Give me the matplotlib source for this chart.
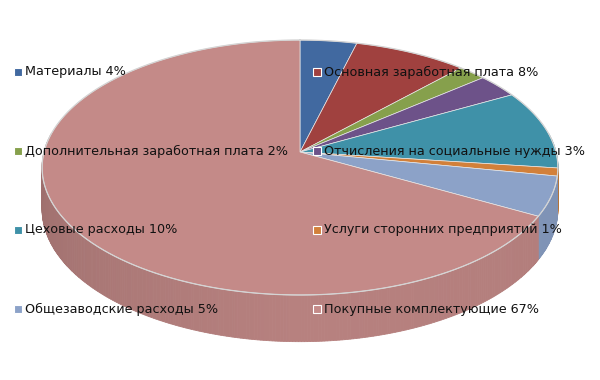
import numpy as np
import matplotlib.pyplot as plt
from matplotlib.patches import Rectangle
from matplotlib.colors import to_rgb

labels = ['Материалы', 'Основная заработная плата', 'Дополнительная заработная плата',
          'Отчисления на социальные нужды', 'Цеховые расходы',
          'Услуги сторонних предприятий', 'Общезаводские расходы',
          'Покупные комплектующие']
shares = [4, 8, 2, 3, 10, 1, 5, 67]
colors = ['#4169A0', '#A0413F', '#86A04C', '#6D5289', '#3F91A8',
          '#D2803A', '#8CA2C8', '#C48A88']

# pie geometry in pixels (axes are set up 1:1 with the picture)
cx, cy = 300, 152
R, K, C, H = 256, 125.6, 0.1216, 41


def project(a, drop=0.0):
    # a is measured clockwise from 12 o'clock, far side of the disc at the top
    u, v = np.sin(a), np.cos(a)
    s = 1.0 / (1.0 + C * v)
    return cx + R * u * s, cy - K * v * s + drop * s


def shade(a):
    return np.interp(a, [np.pi / 2, np.pi, 1.5 * np.pi], [0.90, 0.935, 0.80])


fig = plt.figure(figsize=(6, 3.8), dpi=100)
ax = fig.add_axes([0, 0, 1, 1])
ax.set_xlim(0, 600)
ax.set_ylim(380, 0)
ax.axis('off')

bounds = np.cumsum([0] + shares) / sum(shares) * 2 * np.pi

# side walls (front half only), drawn in thin strips to get the shading
lo, hi = np.pi / 2 - 0.15, 1.5 * np.pi + 0.15
for i in range(len(shares)):
    a0, a1 = max(bounds[i], lo), min(bounds[i + 1], hi)
    if a1 <= a0:
        continue
    n = max(2, int((a1 - a0) / 0.01))
    t = np.linspace(a0, a1, n + 1)
    base = np.array(to_rgb(colors[i]))
    for j in range(n):
        seg = np.linspace(t[j], t[j + 1], 3)
        xt, yt = project(seg)
        xb, yb = project(seg[::-1], H)
        col = np.clip(base * shade(seg[1]), 0, 1)
        ax.fill(np.r_[xt, xb], np.r_[yt, yb], color=col, lw=0.6, zorder=1)

# top face
for i in range(len(shares)):
    t = np.linspace(bounds[i], bounds[i + 1], max(3, int((bounds[i + 1] - bounds[i]) / 0.01)))
    x, y = project(t)
    ax.fill(np.r_[cx, x], np.r_[cy, y], color=colors[i], ec='#E6E6E6', lw=0.5, zorder=2)

t = np.linspace(0, 2 * np.pi, 400)
ax.plot(*project(t), color='#D4D4D4', lw=0.9, zorder=3)

# legend, two columns laid over the pie
rows = [72, 151, 230, 309]
cols = [14, 313]
for i, (lab, val) in enumerate(zip(labels, shares)):
    x0 = cols[i % 2]
    y0 = rows[i // 2]
    ax.add_patch(Rectangle((x0, y0 - 4.5), 8, 8, fc=colors[i], ec='white', lw=0.8, zorder=5))
    ax.text(x0 + 11, y0, f'{lab} {val}%', fontsize=9.2, family='DejaVu Sans',
            color='#111111', va='center', ha='left', zorder=5)

fig.savefig('out.png', dpi=100)
